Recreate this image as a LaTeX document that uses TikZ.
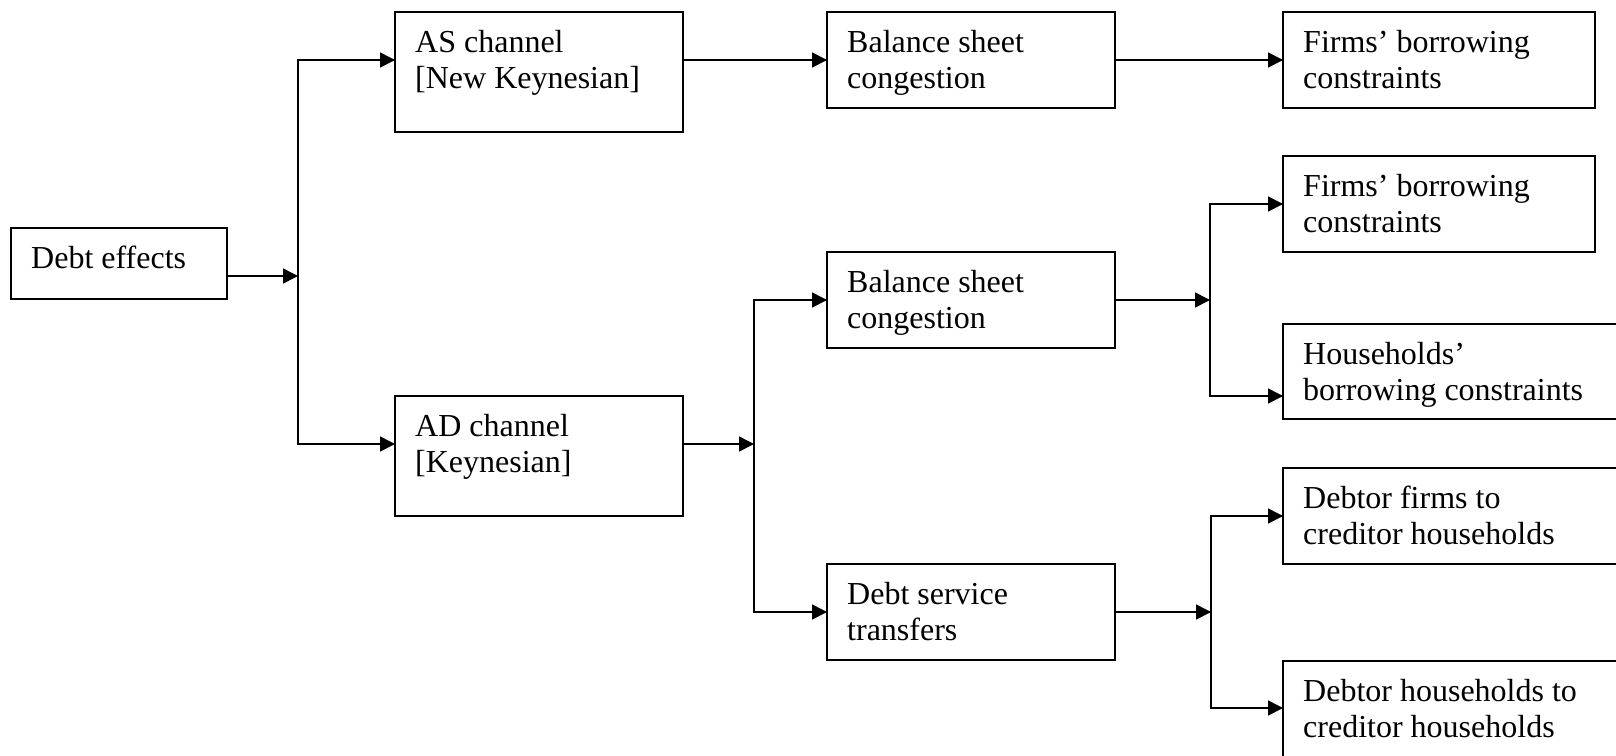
\documentclass[tikz,border=0pt]{standalone}
\usepackage{fontspec}
\setmainfont{Liberation Serif}
\usetikzlibrary{arrows.meta,calc}

\tikzset{
  x=1pt, y=1pt,
  box/.style={draw, line width=1.9pt, inner sep=0pt, outer sep=0pt},
  txt/.style={anchor=north west, inner sep=0pt, align=left,
              font=\fontsize{32}{36.8}\selectfont},
  wire/.style={line width=1.6pt, line join=miter},
  conn/.style={wire, -{Triangle[length=15pt,width=15pt]}},
}

% \mkbox{name}{left}{top}{right}{bottom}{text}  (top/bottom measured downwards)
\newcommand\mkbox[6]{%
  \node[box, minimum width={(#4-#2)*1pt}, minimum height={(#5-#3)*1pt}]
    (#1) at ({(#2+#4)/2},{-(#3+#5)/2}) {};
  \node[txt] (#1-t) at ($(#1.north west)+(20,-14.2)$) {\strut #6};
}

\begin{document}
\begin{tikzpicture}
\useasboundingbox (0,0) rectangle (1616,-755);
\clip (0,0) rectangle (1616,-755);

% boxes
\mkbox{deb}{11}{228}{227}{299}{Debt effects}
\mkbox{as}{395}{12}{683}{132}{AS channel\\{}[New Keynesian]}
\mkbox{ad}{395}{396}{683}{516}{AD channel\\{}[Keynesian]}
\mkbox{bsa}{827}{12}{1115}{108}{Balance sheet\\congestion}
\mkbox{bsb}{827}{252}{1115}{348}{Balance sheet\\congestion}
\mkbox{ds}{827}{564}{1115}{660}{Debt service\\transfers}
\mkbox{fa}{1283}{12}{1595}{108}{Firms’ borrowing\\constraints}
\mkbox{fb}{1283}{156}{1595}{252}{Firms’ borrowing\\constraints}
\mkbox{hh}{1283}{324}{1650}{419}{Households’\\borrowing constraints}
\mkbox{df}{1283}{468}{1650}{564}{Debtor firms to\\creditor households}
\mkbox{dh}{1283}{661}{1650}{790}{Debtor households to\\creditor households}

% branching points
\coordinate (j1)  at (298,-276);
\coordinate (j1a) at (298,-60);
\coordinate (j1b) at (298,-444);
\coordinate (j2)  at (754,-444);
\coordinate (j2a) at (754,-300);
\coordinate (j2b) at (754,-612);
\coordinate (j3)  at (1210,-300);
\coordinate (j3a) at (1210,-204);
\coordinate (j3b) at (1210,-396);
\coordinate (j4)  at (1211,-612);
\coordinate (j4a) at (1211,-516);
\coordinate (j4b) at (1211,-708);

% debt effects -> two channels
\draw[conn] (deb.east |- j1) -- (j1);
\draw[conn] (j1b) -- (j1a) -- (as.west |- j1a);
\draw[conn] (j1a) -- (j1b) -- (ad.west |- j1b);

% AS channel
\draw[conn] (as.east |- bsa.west) -- (bsa.west);
\draw[conn] (bsa.east |- fa.west) -- (fa.west);

% AD channel
\draw[conn] (ad.east |- j2) -- (j2);
\draw[conn] (j2b) -- (j2a) -- (bsb.west |- j2a);
\draw[conn] (j2a) -- (j2b) -- (ds.west |- j2b);

% balance sheet congestion
\draw[conn] (bsb.east |- j3) -- (j3);
\draw[conn] (j3b) -- (j3a) -- (fb.west |- j3a);
\draw[conn] (j3a) -- (j3b) -- (hh.west |- j3b);

% debt service transfers
\draw[conn] (ds.east |- j4) -- (j4);
\draw[conn] (j4b) -- (j4a) -- (df.west |- j4a);
\draw[conn] (j4a) -- (j4b) -- (dh.west |- j4b);
\end{tikzpicture}
\end{document}
